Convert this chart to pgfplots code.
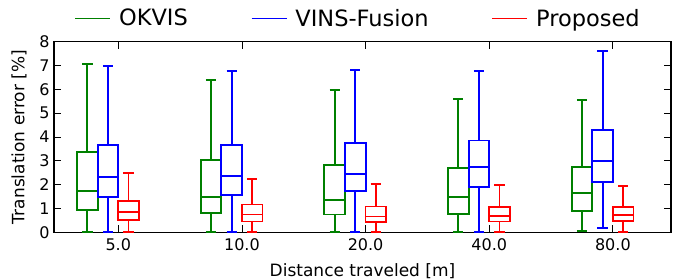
\documentclass[border=0pt]{standalone}
\usepackage{fontspec}
\setmainfont{DejaVu Sans}
\usepackage{pgfplots}
\pgfplotsset{compat=1.18}
\usepgfplotslibrary{statistics}
\definecolor{mgreen}{rgb}{0,0.5,0}
\definecolor{mblue}{rgb}{0,0,1}
\definecolor{mred}{rgb}{1,0,0}
\pgfplotsset{
  bx/.style={line width=1.8pt, forget plot, boxplot/draw direction=y, boxplot/box extend=0.167, boxplot/whisker extend=0.083},
}
\begin{document}
\begin{tikzpicture}
\begin{axis}[
  at={(0pt,0pt)}, anchor=south west,
  scale only axis, width=617pt, height=190.6pt,
  xmin=-0.52, xmax=4.47, ymin=0, ymax=8,
  xtick={0,1,2,3,4},
  xticklabels={5.0,10.0,20.0,40.0,80.0},
  ytick={0,1,2,3,4,5,6,7,8},
  tick align=inside,
  major tick length=7pt,
  every tick/.style={black, line width=0.8pt},
  axis line style={line width=1.3pt},
  tick label style={font=\fontsize{16}{18}\selectfont},
  /pgf/number format/assume math mode=true,
  xticklabel style={yshift=-3pt},
  yticklabel style={xshift=-1pt},
  xlabel={Distance traveled [m]},
  ylabel={Translation error [\%]},
  label style={font=\fontsize{17}{20}\selectfont},
  xlabel style={at={(axis description cs:0.5,-0.232)}, anchor=base},
  ylabel style={at={(axis description cs:-0.0567,0.5)}, anchor=center},
  clip=false,
  legend style={at={(axis description cs:0.493,1.123)}, anchor=center, draw=none, fill=none,
    legend columns=3, font=\fontsize{22.5}{26}\selectfont,
    /tikz/every odd column/.append style={column sep=6pt},
    /tikz/every even column/.append style={column sep=61pt}},
  legend image code/.code={\draw[#1] (0pt,0pt) -- (35pt,0pt);},
]
\addlegendimage{mgreen, line width=1.5pt}
\addlegendentry{OKVIS}
\addlegendimage{mblue, line width=1.5pt}
\addlegendentry{VINS-Fusion}
\addlegendimage{mred, line width=1.5pt}
\addlegendentry{Proposed}

% 5.0
\addplot[mgreen, bx, boxplot prepared={draw position=-0.25, lower whisker=0, lower quartile=0.94, median=1.75, upper quartile=3.37, upper whisker=7.05}] coordinates {};
\addplot[mblue, bx, boxplot prepared={draw position=-0.083, lower whisker=0, lower quartile=1.47, median=2.33, upper quartile=3.66, upper whisker=6.98}] coordinates {};
\addplot[mred, bx, boxplot prepared={draw position=0.083, lower whisker=0, lower quartile=0.53, median=0.84, upper quartile=1.30, upper whisker=2.48}] coordinates {};
% 10.0
\addplot[mgreen, bx, boxplot prepared={draw position=0.75, lower whisker=0, lower quartile=0.82, median=1.47, upper quartile=3.03, upper whisker=6.38}] coordinates {};
\addplot[mblue, bx, boxplot prepared={draw position=0.917, lower whisker=0, lower quartile=1.56, median=2.36, upper quartile=3.65, upper whisker=6.78}] coordinates {};
\addplot[mred, bx, boxplot prepared={draw position=1.083, lower whisker=0, lower quartile=0.45, median=0.75, upper quartile=1.17, upper whisker=2.24}] coordinates {};
% 20.0
\addplot[mgreen, bx, boxplot prepared={draw position=1.75, lower whisker=0, lower quartile=0.75, median=1.37, upper quartile=2.82, upper whisker=5.96}] coordinates {};
\addplot[mblue, bx, boxplot prepared={draw position=1.917, lower whisker=0, lower quartile=1.72, median=2.46, upper quartile=3.75, upper whisker=6.82}] coordinates {};
\addplot[mred, bx, boxplot prepared={draw position=2.083, lower whisker=0, lower quartile=0.43, median=0.66, upper quartile=1.08, upper whisker=2.04}] coordinates {};
% 40.0
\addplot[mgreen, bx, boxplot prepared={draw position=2.75, lower whisker=0, lower quartile=0.77, median=1.47, upper quartile=2.70, upper whisker=5.61}] coordinates {};
\addplot[mblue, bx, boxplot prepared={draw position=2.917, lower whisker=0, lower quartile=1.90, median=2.73, upper quartile=3.85, upper whisker=6.78}] coordinates {};
\addplot[mred, bx, boxplot prepared={draw position=3.083, lower whisker=0, lower quartile=0.45, median=0.70, upper quartile=1.05, upper whisker=1.97}] coordinates {};
% 80.0
\addplot[mgreen, bx, boxplot prepared={draw position=3.75, lower whisker=0.05, lower quartile=0.89, median=1.65, upper quartile=2.75, upper whisker=5.54}] coordinates {};
\addplot[mblue, bx, boxplot prepared={draw position=3.917, lower whisker=0.19, lower quartile=2.10, median=2.98, upper quartile=4.31, upper whisker=7.62}] coordinates {};
\addplot[mred, bx, boxplot prepared={draw position=4.083, lower whisker=0, lower quartile=0.47, median=0.73, upper quartile=1.05, upper whisker=1.93}] coordinates {};
\end{axis}
\pgfresetboundingbox
\path[use as bounding box] (-54pt,-47.7pt) rectangle (624pt,232.3pt);
\end{tikzpicture}
\end{document}
